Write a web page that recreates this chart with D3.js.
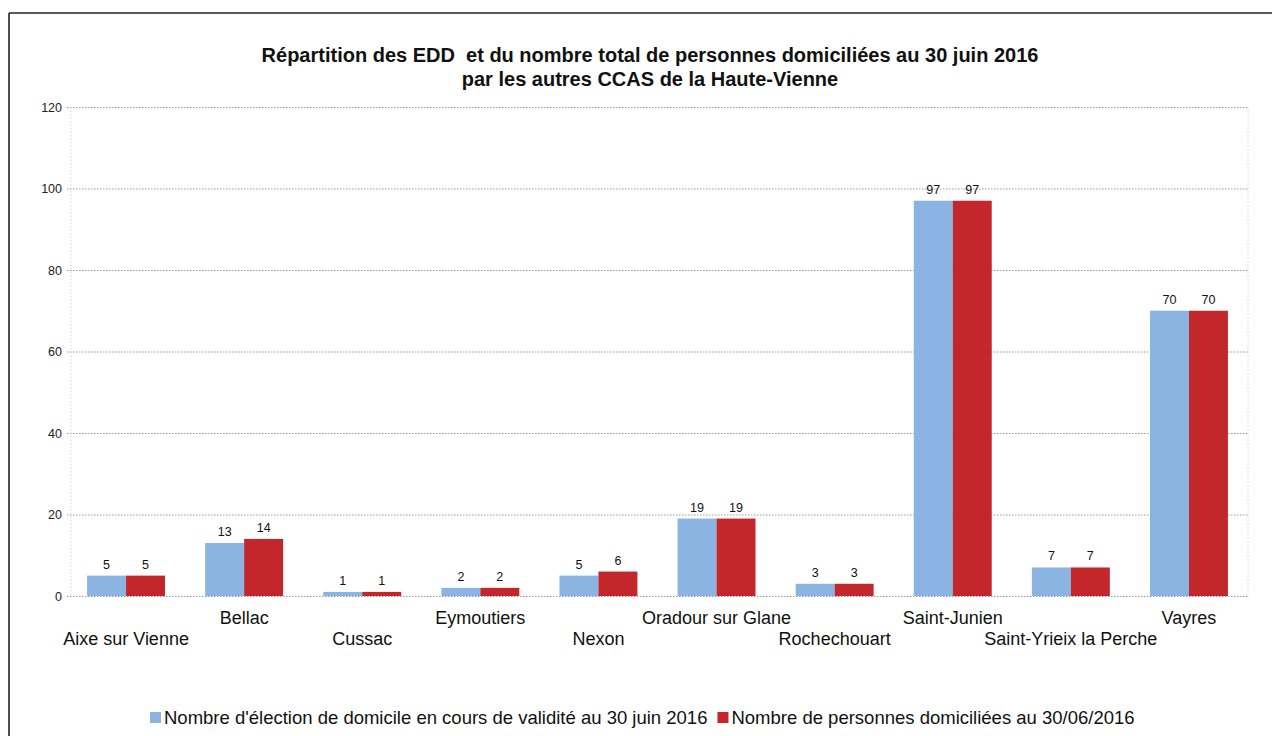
<!DOCTYPE html>
<html>
<head>
<meta charset="utf-8">
<script src="https://cdn.jsdelivr.net/npm/d3@7/dist/d3.min.js"></script>
<style>
  html, body { margin: 0; padding: 0; background: #fff; }
  svg { display: block; font-family: "Liberation Sans", Arial, sans-serif; }
</style>
</head>
<body>
<svg id="chart" width="1272" height="736"></svg>
<script>
// Communes (CCAS) of Haute-Vienne
const communes = ["Aixe sur Vienne", "Bellac", "Cussac", "Eymoutiers", "Nexon",
  "Oradour sur Glane", "Rochechouart", "Saint-Junien", "Saint-Yrieix la Perche", "Vayres"];
// Elections of domicile still valid on 30 June 2016
const electionsValides = [5, 13, 1, 2, 5, 19, 3, 97, 7, 70];
// Total persons domiciled on 30/06/2016
const personnesDomiciliees = [5, 14, 1, 2, 6, 19, 3, 97, 7, 70];
const yTicks = [0, 20, 40, 60, 80, 100, 120];
const seriesNames = [
  "Nombre d'élection de domicile en cours de validité au 30 juin 2016",
  "Nombre de personnes domiciliées au 30/06/2016"
];
const seriesColors = ["#8cb4e2", "#c3262b"];
const titleLines = [
  "Répartition des EDD  et du nombre total de personnes domiciliées au 30 juin 2016",
  "par les autres CCAS de la Haute-Vienne"
];

const svg = d3.select("#chart");
const W = 1272;

// page frame
svg.append("line").attr("x1", 9).attr("x2", W).attr("y1", 13).attr("y2", 13)
  .attr("stroke", "#222").attr("stroke-width", 1.6);
svg.append("line").attr("x1", 9).attr("x2", 9).attr("y1", 13).attr("y2", 736)
  .attr("stroke", "#222").attr("stroke-width", 1.6);

const plot = { left: 67, right: 1248, top: 107, bottom: 596 };

const x = d3.scaleBand().domain(communes).range([plot.left, plot.right])
  .paddingInner(0.34).paddingOuter(0.17);
const xs = d3.scaleBand().domain([0, 1]).range([0, x.bandwidth()]);
const y = d3.scaleLinear().domain([0, 120]).range([plot.bottom, plot.top]);

// title
svg.append("g").selectAll("text").data(titleLines).join("text")
  .attr("x", 650).attr("y", (d, i) => 62 + i * 24)
  .attr("text-anchor", "middle")
  .style("white-space", "pre")
  .attr("font-size", 20).attr("font-weight", "bold").attr("fill", "#111")
  .text(d => d);

// gridlines (dotted)
const yAxis = d3.axisLeft(y).tickValues(yTicks).tickSize(-(plot.right - plot.left)).tickPadding(5);
const gy = svg.append("g").attr("transform", `translate(${plot.left},0)`).call(yAxis);
gy.select(".domain").remove();
gy.selectAll(".tick line").attr("stroke", "#9a9a9a").attr("stroke-dasharray", "1.5,1.5").attr("stroke-width", 1);
gy.selectAll(".tick text").attr("font-size", 12.5).attr("fill", "#222")
  .attr("font-family", "Liberation Sans, Arial, sans-serif");

// faint vertical plot edges
[plot.left + 4, plot.right].forEach(px => {
  svg.append("line").attr("x1", px).attr("x2", px).attr("y1", plot.top).attr("y2", plot.bottom)
    .attr("stroke", "#d6d6d6").attr("stroke-dasharray", "1.5,2");
});

// bars
const series = [electionsValides, personnesDomiciliees];
const groups = svg.append("g").selectAll("g").data(communes).join("g")
  .attr("transform", d => `translate(${x(d)},0)`);
series.forEach((vals, s) => {
  groups.append("rect")
    .attr("x", xs(s)).attr("width", xs.bandwidth())
    .attr("y", (d, i) => y(vals[i]))
    .attr("height", (d, i) => y(0) - y(vals[i]))
    .attr("fill", seriesColors[s]);
  groups.append("text")
    .attr("x", xs(s) + xs.bandwidth() / 2)
    .attr("y", (d, i) => y(vals[i]) - 7)
    .attr("text-anchor", "middle").attr("font-size", 12.5).attr("fill", "#111")
    .text((d, i) => vals[i]);
});

// category labels, staggered on two rows
svg.append("g").selectAll("text").data(communes).join("text")
  .attr("x", d => x(d) + x.bandwidth() / 2)
  .attr("y", (d, i) => i % 2 === 0 ? 645 : 624)
  .attr("text-anchor", "middle").attr("font-size", 18).attr("fill", "#111")
  .text(d => d);

// legend
const legend = svg.append("g").attr("transform", "translate(0,724)");
let lx = 150;
seriesNames.forEach((name, i) => {
  legend.append("rect").attr("x", lx).attr("y", -12).attr("width", 11).attr("height", 11)
    .attr("fill", seriesColors[i]);
  const t = legend.append("text").attr("x", lx + 14).attr("y", 0)
    .attr("font-size", 18.5).attr("fill", "#111").text(name);
  lx += 14 + t.node().getComputedTextLength() + 10;
});
</script>
</body>
</html>
